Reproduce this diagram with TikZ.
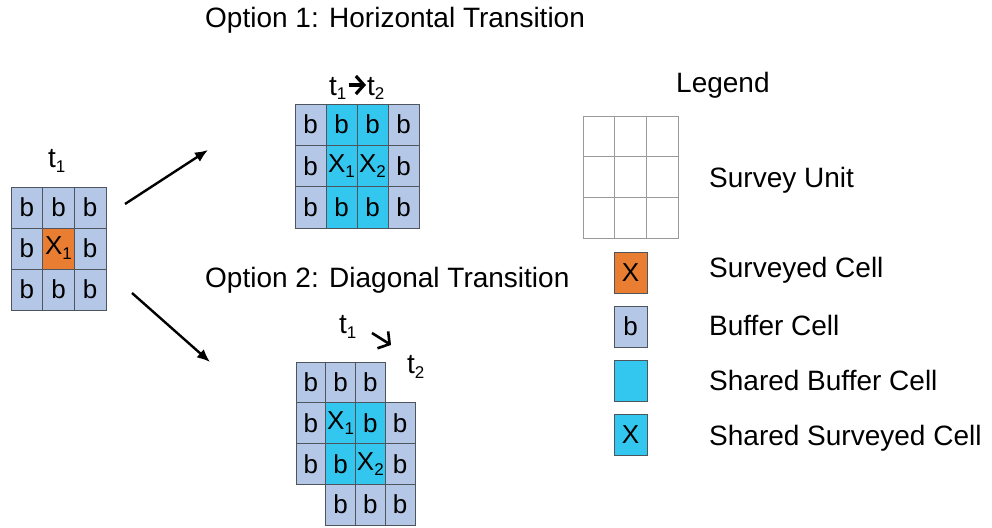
\documentclass[tikz,border=0pt]{standalone}
\usepackage{fontspec}
\setmainfont{Liberation Sans}
\usetikzlibrary{arrows.meta}

\definecolor{bufc}{HTML}{B4C7E7}
\definecolor{survc}{HTML}{E97D32}
\definecolor{sharec}{HTML}{33C6EE}
\definecolor{gridc}{HTML}{4F555C}
\definecolor{legc}{HTML}{9A9A9A}

% lowered index digit used in cell and time labels
\newcommand{\lowsub}[2][17]{\raisebox{-5pt}{\fontsize{#1}{#1}\selectfont #2}}

\tikzset{
  cellbox/.style={draw=gridc, line width=0.8pt, inner sep=0pt,
    font=\fontsize{26}{26}\selectfont},
  title/.style={anchor=base west, inner sep=0pt, font=\fontsize{28}{28}\selectfont},
  tlabel/.style={anchor=base west, inner sep=0pt, font=\fontsize{28}{28}\selectfont},
  bigarrow/.style={line width=2.4pt, -{Latex[length=13pt,width=11pt]}},
  tarrow/.style={line width=3.4pt, -{Straight Barb[length=8pt,width=18pt,line width=3.2pt]}},
  legcell/.style={draw=legc, line width=0.8pt, inner sep=0pt,
    minimum width=31.67pt, minimum height=40.67pt},
  legkey/.style={draw=gridc, line width=0.8pt, inner sep=0pt,
    minimum width=33pt, minimum height=41pt, font=\fontsize{26}{26}\selectfont},
}

\begin{document}
\begin{tikzpicture}[x=1pt, y=-1pt]
\useasboundingbox (0,0) rectangle (992,527);

% ---- titles ----
\node[title] (opt1) at (205,28) {Option 1: Horizontal Transition};
\node[title] (opt2) at (205,287) {Option 2: Diagonal Transition};

% ---- starting unit at t1 ----
\node[tlabel] (t0) at (48,167) {t\lowsub{1}};
\foreach \nm/\c/\r/\f/\t in {
  L00/0/0/bufc/b, L10/1/0/bufc/b, L20/2/0/bufc/b,
  L01/0/1/bufc/b, L11/1/1/survc/{X\lowsub{1}}, L21/2/1/bufc/b,
  L02/0/2/bufc/b, L12/1/2/bufc/b, L22/2/2/bufc/b}
  \node[cellbox, fill=\f, minimum width=31.67pt, minimum height=41pt]
    (\nm) at ({11+31.67*(\c+0.5)},{187+41*(\r+0.5)}) {\t};

% ---- option 1: horizontal ----
\node[tlabel] (h1) at (329,95) {t\lowsub{1}};
\node[tlabel] (h2) at (367,95) {t\lowsub{2}};
\draw[tarrow] ([shift={(2,-10)}]h1.base east) -- ([shift={(-1,-10)}]h2.base west);
\foreach \nm/\c/\r/\f/\t in {
  H00/0/0/bufc/b, H10/1/0/sharec/b, H20/2/0/sharec/b, H30/3/0/bufc/b,
  H01/0/1/bufc/b, H11/1/1/sharec/{X\lowsub{1}}, H21/2/1/sharec/{X\lowsub{2}}, H31/3/1/bufc/b,
  H02/0/2/bufc/b, H12/1/2/sharec/b, H22/2/2/sharec/b, H32/3/2/bufc/b}
  \node[cellbox, fill=\f, minimum width=31pt, minimum height=41.33pt]
    (\nm) at ({295+31*(\c+0.5)},{104+41.33*(\r+0.5)}) {\t};

% ---- option 2: diagonal ----
\node[tlabel] (d1) at (339,333) {t\lowsub{1}};
\node[tlabel] (d2) at (407,373) {t\lowsub{2}};
\coordinate (da) at (372,333);
\coordinate (db) at (391,345);
\draw[line width=2.6pt, -{Straight Barb[length=8pt,width=20pt,line width=2.6pt]}] (da) -- (db);
\foreach \nm/\c/\r/\f/\t in {
  D00/0/0/bufc/b, D10/1/0/bufc/b, D20/2/0/bufc/b,
  D01/0/1/bufc/b, D11/1/1/sharec/{X\lowsub{1}}, D21/2/1/sharec/b, D31/3/1/bufc/b,
  D02/0/2/bufc/b, D12/1/2/sharec/b, D22/2/2/sharec/{X\lowsub{2}}, D32/3/2/bufc/b,
  D13/1/3/bufc/b, D23/2/3/bufc/b, D33/3/3/bufc/b}
  \node[cellbox, fill=\f, minimum width=29.75pt, minimum height=40.75pt]
    (\nm) at ({296+29.75*(\c+0.5)},{362+40.75*(\r+0.5)}) {\t};

% ---- transition arrows ----
\coordinate (a1s) at (125,204);
\coordinate (a1e) at (208,150);
\coordinate (a2s) at (132,293);
\coordinate (a2e) at (210,362);
\draw[bigarrow] (a1s) -- (a1e);
\draw[bigarrow] (a2s) -- (a2e);

% ---- legend ----
\node[title] (leg) at (676,92) {Legend};
\foreach \c in {0,1,2}
  \foreach \r in {0,1,2}
    \node[legcell] (G\c\r) at ({583+31.67*(\c+0.5)},{116+40.67*(\r+0.5)}) {};
\node[title] (lu) at (709,187) {Survey Unit};

\node[legkey, fill=survc] (k1) at (630.5,272.5) {X};
\node[title] (l1) at (709,277) {Surveyed Cell};
\node[legkey, fill=bufc] (k2) at (630.5,326.5) {b};
\node[title] (l2) at (709,335) {Buffer Cell};
\node[legkey, fill=sharec] (k3) at (630.5,380.5) {};
\node[title] (l3) at (709,390) {Shared Buffer Cell};
\node[legkey, fill=sharec] (k4) at (630.5,435) {X};
\node[title] (l4) at (709,445) {Shared Surveyed Cell};
\end{tikzpicture}
\end{document}
